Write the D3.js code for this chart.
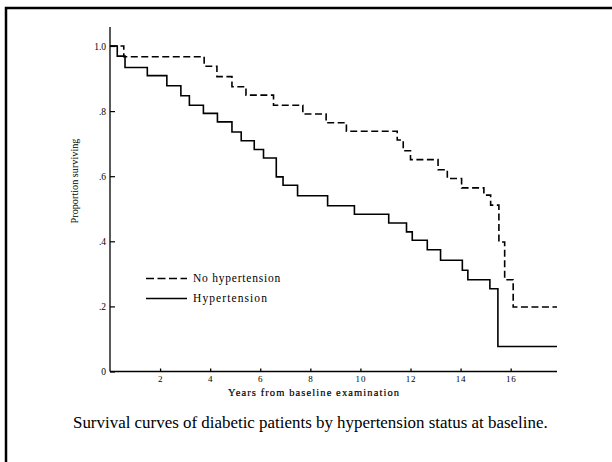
<!DOCTYPE html>
<html>
<head>
<meta charset="utf-8">
<script src="https://cdn.jsdelivr.net/npm/d3@7"></script>
<style>
  body { margin: 0; background: #fff; }
  svg { display: block; }
  svg text { font-family: "Liberation Serif", "Times New Roman", "DejaVu Serif", serif; fill: #000; }
</style>
</head>
<body>
<svg></svg>
<script>
// step times (years) and survival after each drop
const noHypTimes = [0.55, 3.76, 4.27, 4.87, 5.43, 6.53, 7.7, 8.63, 9.44, 11.47, 11.71, 12.0, 13.1, 13.47, 14.04, 14.93, 15.2, 15.53, 15.76, 16.1];
const noHypValues = [0.967, 0.938, 0.906, 0.875, 0.849, 0.818, 0.791, 0.764, 0.738, 0.711, 0.678, 0.651, 0.620, 0.593, 0.564, 0.542, 0.511, 0.398, 0.282, 0.198];

const hypTimes = [0.29, 0.6, 1.49, 2.27, 2.83, 3.17, 3.73, 4.29, 4.87, 5.24, 5.76, 6.13, 6.64, 6.91, 7.49, 8.69, 9.76, 11.13, 11.84, 12.07, 12.67, 13.2, 14.07, 14.29, 15.17, 15.49];
const hypValues = [0.969, 0.934, 0.909, 0.878, 0.847, 0.818, 0.793, 0.767, 0.736, 0.709, 0.682, 0.656, 0.598, 0.572, 0.540, 0.509, 0.483, 0.456, 0.429, 0.403, 0.374, 0.342, 0.311, 0.282, 0.254, 0.077];

const xTicks = [2, 4, 6, 8, 10, 12, 14, 16];
const yTicks = [0, 0.2, 0.4, 0.6, 0.8, 1.0];
const yTickLabels = ["0", ".2", ".4", ".6", ".8", "1.0"];

const seriesNames = ["No hypertension", "Hypertension"];
const maxYear = 17.85;

const width = 612;
const height = 462;

const svg = d3.select("svg").attr("width", width).attr("height", height);

// scale a text's font size so it spans the width
const fitText = (sel, target) => {
    const fs = parseFloat(sel.attr("font-size"));
    const w = sel.node().getComputedTextLength();
    if (w > 0) sel.attr("font-size", (fs * target / w).toFixed(2));
    return sel;
};

// keep the font size, spread the letters to reach the measured width
const spreadText = (sel, target) => {
    const n = sel.text().length;
    const w = sel.node().getComputedTextLength();
    if (w > 0 && n > 1) sel.attr("letter-spacing", ((target - w) / n).toFixed(2));
    return sel;
};

// page frame (top and left edges only)
svg.append("path")
    .attr("d", "M6," + height + "V8H" + width)
    .attr("fill", "none")
    .attr("stroke", "#000")
    .attr("stroke-width", 2.5);

const xScale = d3.scaleLinear().domain([0, maxYear]).range([110, 557]);
const yScale = d3.scaleLinear().domain([0, 1]).range([371.5, 46]);

// x axis: ticks pointing up into the plot
const xAxis = d3.axisTop(xScale).tickValues(xTicks).tickSize(3).tickFormat(d3.format("d"));
const gx = svg.append("g").attr("transform", "translate(0," + yScale(0) + ")").call(xAxis);
gx.attr("font-family", null);
gx.select(".domain").attr("d", "M" + xScale(0) + ",0H" + xScale(maxYear)).attr("stroke-width", 1.3);
gx.selectAll(".tick line").attr("stroke-width", 1.3);
gx.selectAll(".tick text")
    .attr("y", 10.5)
    .attr("dy", "0")
    .attr("font-size", 9)
    .attr("letter-spacing", 0.8);

// y axis: ticks pointing right
const yAxis = d3.axisRight(yScale).tickValues(yTicks).tickSize(5).tickFormat((d, i) => yTickLabels[i]);
const gy = svg.append("g").attr("transform", "translate(" + xScale(0) + ",0)").call(yAxis);
gy.attr("font-family", null);
gy.select(".domain").attr("d", "M0," + yScale(0) + "V27").attr("stroke-width", 1.3);
gy.selectAll(".tick line").attr("stroke-width", 1.2);
gy.selectAll(".tick text")
    .attr("x", -4)
    .attr("text-anchor", "end")
    .attr("font-size", 9.5);

// axis titles
spreadText(svg.append("text")
    .attr("x", 228).attr("y", 396)
    .attr("font-size", 10.5)
    .attr("stroke", "#000").attr("stroke-width", 0.2)
    .text("Years from baseline examination"), 172);

fitText(svg.append("text")
    .attr("transform", "translate(78,181) rotate(-90)")
    .attr("text-anchor", "middle")
    .attr("font-size", 10)
    .text("Proportion surviving"), 85);

// survival curves
const toSteps = (times, values) => {
    const pts = [[0, 1]];
    times.forEach((t, i) => pts.push([t, values[i]]));
    pts.push([maxYear, values[values.length - 1]]);
    return pts;
};

const line = d3.line()
    .x(d => xScale(d[0]))
    .y(d => yScale(d[1]))
    .curve(d3.curveStepAfter);

svg.append("path")
    .datum(toSteps(noHypTimes, noHypValues))
    .attr("d", line)
    .attr("fill", "none")
    .attr("stroke", "#000")
    .attr("stroke-width", 1.6)
    .attr("stroke-dasharray", "7,3.5");

svg.append("path")
    .datum(toSteps(hypTimes, hypValues))
    .attr("d", line)
    .attr("fill", "none")
    .attr("stroke", "#000")
    .attr("stroke-width", 1.6);

// legend
const legend = svg.append("g");
[0, 1].forEach(i => {
    const y = 278.5 + i * 20;
    legend.append("line")
        .attr("x1", 146).attr("x2", 187)
        .attr("y1", y).attr("y2", y)
        .attr("stroke", "#000")
        .attr("stroke-width", 1.6)
        .attr("stroke-dasharray", i === 0 ? "8,3.5" : null);
    const t = legend.append("text")
        .attr("x", 193).attr("y", y + 3.5)
        .attr("font-size", 11.5)
        .text(seriesNames[i]);
    spreadText(t, i === 0 ? 88 : 75);
});

// caption
fitText(svg.append("text")
    .attr("x", 73).attr("y", 428)
    .attr("font-size", 15)
    .attr("fill", "#222")
    .text("Survival curves of diabetic patients by hypertension status at baseline."), 475);
</script>
</body>
</html>
